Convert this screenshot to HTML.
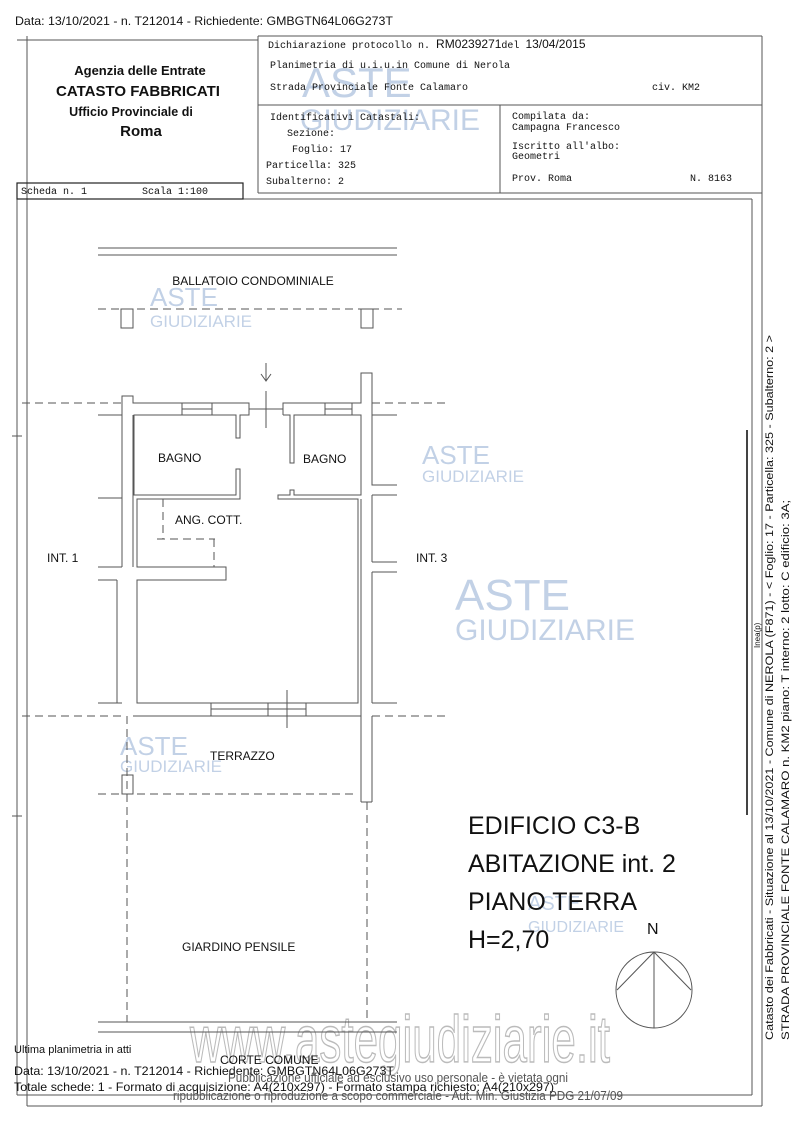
<!DOCTYPE html>
<html><head><meta charset="utf-8"><style>
html,body{margin:0;padding:0;background:#fff;}
svg{display:block;}
text{font-family:"Liberation Sans",sans-serif;fill:#111;}
.m{font-family:"Liberation Mono",monospace;font-size:10px;}
.w{fill:none;stroke:#555;stroke-width:1;}
.d{fill:none;stroke:#555;stroke-width:1;stroke-dasharray:8,5;}
.wm{fill:#a9bedc;opacity:.7;}
</style></head><body>
<svg width="800" height="1131" viewBox="0 0 800 1131" xmlns="http://www.w3.org/2000/svg">
<!-- big watermark (behind) -->
<text x="400" y="1062" font-size="66" text-anchor="middle" stroke="#bbb" stroke-width="1.5" textLength="420" lengthAdjust="spacingAndGlyphs" style="fill:#fff">www.astegiudiziarie.it</text>
<!-- frames -->
<g class="w" stroke="#666">
<line x1="17" y1="40" x2="258" y2="40"/>
<line x1="27" y1="36" x2="27" y2="46"/>
<line x1="258" y1="36" x2="762" y2="36"/>
<line x1="258" y1="36" x2="258" y2="193"/>
<line x1="762" y1="36" x2="762" y2="1106"/>
<line x1="258" y1="105" x2="762" y2="105"/>
<line x1="258" y1="193" x2="762" y2="193"/>
<line x1="500" y1="105" x2="500" y2="193"/>
<line x1="27" y1="40" x2="27" y2="1106"/>
<line x1="27" y1="1106" x2="762" y2="1106"/>
<line x1="17" y1="199" x2="752" y2="199"/>
<line x1="752" y1="199" x2="752" y2="1095"/>
<line x1="17" y1="199" x2="17" y2="1095"/>
<line x1="17" y1="1095" x2="752" y2="1095"/>
<line x1="12" y1="436" x2="22" y2="436"/>
<line x1="12" y1="816" x2="22" y2="816"/>
</g>
<rect x="17" y="183" width="226" height="16" fill="none" stroke="#222" stroke-width="1.2"/>
<line x1="747" y1="430" x2="747" y2="815" stroke="#444" stroke-width="2"/>

<!-- watermarks -->
<text class="wm" x="302" y="97" font-size="42">ASTE</text>
<text class="wm" x="300" y="130" font-size="30">GIUDIZIARIE</text>
<text class="wm" x="150" y="306" font-size="26">ASTE</text>
<text class="wm" x="150" y="327" font-size="17">GIUDIZIARIE</text>
<text class="wm" x="422" y="464" font-size="26">ASTE</text>
<text class="wm" x="422" y="482" font-size="17">GIUDIZIARIE</text>
<text class="wm" x="455" y="610" font-size="44">ASTE</text>
<text class="wm" x="455" y="640" font-size="30">GIUDIZIARIE</text>
<text class="wm" x="120" y="755" font-size="26">ASTE</text>
<text class="wm" x="120" y="772" font-size="17">GIUDIZIARIE</text>
<text class="wm" x="528" y="910" font-size="20">ASTE</text>
<text class="wm" x="528" y="932" font-size="16">GIUDIZIARIE</text>

<!-- header text -->
<text x="15" y="25" font-size="12" textLength="378" lengthAdjust="spacingAndGlyphs">Data: 13/10/2021 - n. T212014 - Richiedente: GMBGTN64L06G273T</text>
<text x="140" y="75" font-size="13" font-weight="bold" text-anchor="middle">Agenzia delle Entrate</text>
<text x="138" y="96" font-size="15" font-weight="bold" text-anchor="middle">CATASTO FABBRICATI</text>
<text x="131" y="116" font-size="12.5" font-weight="bold" text-anchor="middle">Ufficio Provinciale di</text>
<text x="141" y="136" font-size="15" font-weight="bold" text-anchor="middle">Roma</text>
<text class="m" x="268" y="48">Dichiarazione protocollo n. <tspan font-family="Liberation Sans" font-size="12">RM0239271</tspan>del   <tspan font-family="Liberation Sans" font-size="12">13/04/2015</tspan></text>
<text class="m" x="270" y="68">Planimetria di u.i.u.in Comune di Nerola</text>
<text class="m" x="270" y="90">Strada Provinciale Fonte Calamaro</text>
<text class="m" x="652" y="90">civ. KM2</text>
<text class="m" x="270" y="120">Identificativi Catastali:</text>
<text class="m" x="287" y="136">Sezione:</text>
<text class="m" x="292" y="152">Foglio: 17</text>
<text class="m" x="266" y="168">Particella: 325</text>
<text class="m" x="266" y="184">Subalterno: 2</text>
<text class="m" x="512" y="119">Compilata da:</text>
<text class="m" x="512" y="130">Campagna Francesco</text>
<text class="m" x="512" y="149">Iscritto all'albo:</text>
<text class="m" x="512" y="159">Geometri</text>
<text class="m" x="512" y="181">Prov. Roma</text>
<text class="m" x="690" y="181">N. 8163</text>
<text class="m" x="21" y="194">Scheda n. 1</text>
<text class="m" x="142" y="194">Scala 1:100</text>

<!-- ballatoio -->
<g class="w">
<line x1="98" y1="248" x2="397" y2="248"/>
<line x1="98" y1="255" x2="397" y2="255"/>
<rect x="121" y="309" width="12" height="19"/>
<rect x="361" y="309" width="12" height="19"/>
</g>
<line class="d" x1="98" y1="309" x2="402" y2="309"/>
<text x="253" y="285" font-size="12" text-anchor="middle">BALLATOIO CONDOMINIALE</text>

<line class="d" x1="22" y1="403" x2="122" y2="403"/>
<line class="d" x1="372" y1="403" x2="445" y2="403"/>
<line class="d" x1="22" y1="716" x2="122" y2="716"/>
<line class="d" x1="372" y1="716" x2="445" y2="716"/>

<g class="w">
<polyline points="122,415 122,396 133,396 133,403 249,403 249,415 240,415 240,438 236,438 236,415 134,415 134,495 236,495 236,469 240,469 240,499 137,499 137,567 226,567 226,580 137,580 137,703 211,703"/>
<line x1="122" y1="415" x2="122" y2="567"/>
<line x1="133" y1="415" x2="133" y2="567"/>
<line x1="117" y1="580" x2="117" y2="703"/>
<line x1="98" y1="415" x2="122" y2="415"/>
<line x1="98" y1="498" x2="122" y2="498"/>
<line x1="98" y1="567" x2="122" y2="567"/>
<line x1="98" y1="580" x2="117" y2="580"/>
<line x1="98" y1="703" x2="117" y2="703"/>
<rect x="182" y="403" width="30" height="12"/>
<line x1="182" y1="409" x2="212" y2="409"/>
<line x1="249" y1="409" x2="283" y2="409"/>
<line x1="266" y1="391" x2="266" y2="428"/>
<line x1="266" y1="363" x2="266" y2="381"/>
<polyline points="261,374 266,381 271,374"/>
<polyline points="283,415 283,403 361,403 361,373 372,373 372,485 397,485"/>
<polyline points="283,415 290,415 290,463 294,463 294,415 361,415 361,495 294,495 294,490 290,490 290,495 278,495 278,499 358,499 358,703 306,703"/>
<rect x="325" y="403" width="27" height="12"/>
<line x1="325" y1="409" x2="352" y2="409"/>
<line x1="372" y1="415" x2="397" y2="415"/>
<line x1="372" y1="495" x2="397" y2="495"/>
<line x1="372" y1="495" x2="372" y2="562"/>
<line x1="372" y1="562" x2="397" y2="562"/>
<line x1="372" y1="572" x2="397" y2="572"/>
<line x1="372" y1="572" x2="372" y2="703"/>
<line x1="372" y1="703" x2="397" y2="703"/>
<line x1="361" y1="499" x2="361" y2="703"/>
<line x1="117" y1="703" x2="122" y2="703"/>
<line x1="133" y1="716" x2="361" y2="716"/>
<line x1="361" y1="703" x2="361" y2="802"/>
<line x1="372" y1="716" x2="372" y2="802"/>
<line x1="361" y1="802" x2="372" y2="802"/>
<rect x="211" y="703" width="95" height="13"/>
<line x1="211" y1="709" x2="306" y2="709"/>
<line x1="268" y1="703" x2="268" y2="716"/>
<line x1="287" y1="690" x2="287" y2="728"/>
<rect x="122" y="775" width="11" height="19"/>
<line x1="98" y1="1022" x2="397" y2="1022"/>
<line x1="98" y1="1032" x2="397" y2="1032"/>
</g>
<line class="d" x1="163" y1="499" x2="163" y2="539"/>
<line class="d" x1="157" y1="539" x2="215" y2="539"/>
<line class="d" x1="214" y1="539" x2="214" y2="567"/>
<line class="d" x1="127" y1="716" x2="127" y2="1022"/>
<line class="d" x1="98" y1="794" x2="357" y2="794"/>
<line class="d" x1="367" y1="802" x2="367" y2="1022"/>

<g font-size="12">
<text x="158" y="462">BAGNO</text>
<text x="303" y="463">BAGNO</text>
<text x="175" y="524">ANG. COTT.</text>
<text x="47" y="562">INT. 1</text>
<text x="416" y="562">INT. 3</text>
<text x="210" y="760">TERRAZZO</text>
<text x="182" y="951">GIARDINO PENSILE</text>
<text x="220" y="1064">CORTE COMUNE</text>
</g>

<g font-size="25">
<text x="468" y="834">EDIFICIO C3-B</text>
<text x="468" y="872">ABITAZIONE int. 2</text>
<text x="468" y="910">PIANO TERRA</text>
<text x="468" y="948">H=2,70</text>
</g>
<text x="647" y="934" font-size="16">N</text>
<g class="w">
<circle cx="654" cy="990" r="38"/>
<line x1="654" y1="952" x2="654" y2="1028"/>
<line x1="654" y1="952" x2="617" y2="990"/>
<line x1="654" y1="952" x2="691" y2="990"/>
</g>

<text transform="translate(773,1040) rotate(-90)" font-size="11" textLength="705" lengthAdjust="spacingAndGlyphs">Catasto dei Fabbricati - Situazione al 13/10/2021 - Comune di NEROLA (F871) - &lt; Foglio: 17 - Particella: 325 - Subalterno: 2 &gt;</text>
<text transform="translate(789,1040) rotate(-90)" font-size="11" textLength="540" lengthAdjust="spacingAndGlyphs">STRADA PROVINCIALE FONTE CALAMARO n. KM2 piano: T interno: 2 lotto: C edificio: 3A;</text>
<text transform="translate(760,648) rotate(-90)" font-size="8">Inea(p)</text>

<text x="14" y="1053" font-size="11">Ultima planimetria in atti</text>
<text x="14" y="1075" font-size="12" textLength="380" lengthAdjust="spacingAndGlyphs">Data: 13/10/2021 - n. T212014 - Richiedente: GMBGTN64L06G273T</text>
<text x="14" y="1091" font-size="12" textLength="540" lengthAdjust="spacingAndGlyphs">Totale schede: 1 - Formato di acquisizione: A4(210x297) - Formato stampa richiesto: A4(210x297)</text>
<text x="398" y="1082" font-size="13" text-anchor="middle" style="fill:#555" textLength="340" lengthAdjust="spacingAndGlyphs">Pubblicazione ufficiale ad esclusivo uso personale - è vietata ogni</text>
<text x="398" y="1100" font-size="13" text-anchor="middle" style="fill:#555" textLength="450" lengthAdjust="spacingAndGlyphs">ripubblicazione o riproduzione a scopo commerciale - Aut. Min. Giustizia PDG 21/07/09</text>
</svg>
</body></html>
